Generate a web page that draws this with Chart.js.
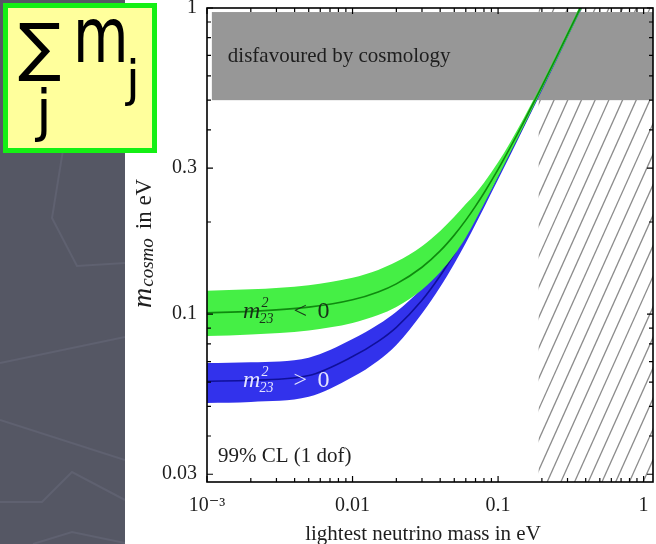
<!DOCTYPE html>
<html>
<head>
<meta charset="utf-8">
<script src="https://cdn.jsdelivr.net/npm/chart.js@4.4.1/dist/chart.umd.min.js"></script>
<style>
  html, body { margin: 0; padding: 0; }
  body { width: 656px; height: 544px; position: relative; overflow: hidden; background: #fff; }
  #slide { position: absolute; left: 0; top: 0; width: 125px; height: 544px; background: #555764; }
  #slide svg { position: absolute; left: 0; top: 0; }
  #plot { position: absolute; left: 125px; top: 0; width: 531px; height: 544px; background: #fff; }
  #sum { position: absolute; left: 3px; top: 3px; width: 144px; height: 140px; border: 5px solid #14f014;
         background: #ffff9c; font-family: "DejaVu Sans", sans-serif; color: #000; }
  #sum span { position: absolute; line-height: 1; white-space: nowrap; transform-origin: 0 0; }
</style>
</head>
<body>
<div id="slide">
  <svg width="125" height="544">
    <g fill="none" stroke="#5f6170" stroke-width="2">
      <polyline points="63,150 52,218 77,266 125,263"/>
      <polyline points="0,363 125,337"/>
      <polyline points="0,420 125,460"/>
      <polyline points="0,502 42,502 72,472 125,500"/>
      <polyline points="33,544 72,532 125,543"/>
    </g>
  </svg>
</div>
<div id="plot"><canvas id="massChart"></canvas></div>
<div id="sum">
  <span style="left:10px; top:7px; font-size:64px;">&#8721;</span>
  <span style="left:65px; top:-11px; font-size:77px; transform:scaleX(0.74);">m</span>
  <span style="left:118px; top:46px; font-size:50px;">j</span>
  <span style="left:28px; top:74px; font-size:57px;">j</span>
</div>

<script>
// lightest neutrino mass (eV)
const massX = [0.001, 0.002, 0.005, 0.01, 0.015, 0.02, 0.03, 0.04, 0.05, 0.06,
               0.07, 0.08, 0.1, 0.12, 0.15, 0.2, 0.25, 0.3, 0.37, 0.42];

// inverted ordering, m23^2 < 0
const invCentral = [0.1010, 0.1021, 0.1054, 0.1114, 0.1182, 0.1256, 0.1423, 0.1609, 0.1812, 0.2028,
                    0.2254, 0.2488, 0.2972, 0.3472, 0.4239, 0.5544, 0.6866, 0.8197, 1.0069, 1.1410];
const invUpper   = [0.1192, 0.1205, 0.1244, 0.1315, 0.1395, 0.1482, 0.1668, 0.1870, 0.2080, 0.2288,
                    0.2479, 0.2687, 0.3135, 0.3611, 0.4366, 0.5666, 0.7017, 0.8377, 1.0291, 1.1661];
const invLower   = [0.0848, 0.0858, 0.0885, 0.0936, 0.0993, 0.1055, 0.1202, 0.1371, 0.1562, 0.1781,
                    0.2029, 0.2289, 0.2809, 0.3333, 0.4112, 0.5422, 0.6715, 0.8017, 0.9847, 1.1159];

// normal ordering, m23^2 > 0
const norCentral = [0.0604, 0.0608, 0.0630, 0.0727, 0.0815, 0.0906, 0.1110, 0.1335, 0.1575, 0.1822,
                    0.2074, 0.2330, 0.2849, 0.3367, 0.4154, 0.5479, 0.6814, 0.8153, 1.0034, 1.1378];
const norUpper   = [0.0692, 0.0696, 0.0721, 0.0829, 0.0925, 0.1019, 0.1215, 0.1444, 0.1688, 0.1935,
                    0.2182, 0.2433, 0.2946, 0.3461, 0.4245, 0.5589, 0.6950, 0.8316, 1.0235, 1.1606];
const norLower   = [0.0513, 0.0517, 0.0537, 0.0623, 0.0705, 0.0793, 0.1005, 0.1226, 0.1462, 0.1709,
                    0.1966, 0.2227, 0.2752, 0.3273, 0.4063, 0.5369, 0.6678, 0.7990, 0.9833, 1.1150];

const xTickValues = [0.001, 0.01, 0.1, 1];
const xTickLabels = ['10\u207B\u00B3', '0.01', '0.1', '1'];
const xMinorTicks = [0.002, 0.003, 0.004, 0.005, 0.006, 0.007, 0.008, 0.009,
                     0.02, 0.03, 0.04, 0.05, 0.06, 0.07, 0.08, 0.09,
                     0.2, 0.3, 0.4, 0.5, 0.6, 0.7, 0.8, 0.9];
const yTickValues = [0.03, 0.1, 0.3, 1];
const yTickLabels = ['0.03', '0.1', '0.3', '1'];
const yMinorTicks = [0.04, 0.05, 0.06, 0.07, 0.08, 0.09, 0.2, 0.4, 0.5, 0.6, 0.7, 0.8, 0.9];

const cosmoBound = [0.5, 0.97];   // sum of masses disfavoured by cosmology
const cosmoFromX = 0.00108;
const hatchFromX = 0.19;          // excluded lightest mass

const SERIF = '"Liberation Serif", "DejaVu Serif", serif';

function pts(ys) {
  return massX.map((x, i) => ({ x: x, y: ys[i] }));
}

function bandLine(ys, order) {
  return { data: pts(ys), borderWidth: 0, pointRadius: 0, fill: false, order: order,
           cubicInterpolationMode: 'monotone' };
}

// draws "m" with sup 2 / sub 23, then a relation sign and 0
function drawM23(ctx, x, y, rel, color) {
  ctx.fillStyle = color;
  ctx.textBaseline = 'alphabetic';
  ctx.font = 'italic 24px ' + SERIF;
  ctx.fillText('m', x, y);
  const w = ctx.measureText('m').width;
  ctx.font = 'italic 14px ' + SERIF;
  ctx.fillText('2', x + w + 1, y - 11);
  ctx.fillText('23', x + w - 1, y + 5);
  ctx.font = '24px ' + SERIF;
  ctx.fillText(rel, x + w + 33, y);
  ctx.fillText('0', x + w + 57, y);
}

const decor = {
  id: 'decor',
  beforeDatasetsDraw(chart) {
    const { ctx, chartArea: a, scales: { x, y } } = chart;
    ctx.save();
    ctx.beginPath();
    ctx.rect(a.left, a.top, a.right - a.left, a.bottom - a.top);
    ctx.clip();

    // hatched region
    const hx = x.getPixelForValue(hatchFromX);
    ctx.save();
    ctx.beginPath();
    ctx.rect(hx, a.top, a.right - hx, a.bottom - a.top);
    ctx.clip();
    ctx.strokeStyle = '#8c8c8c';
    ctx.lineWidth = 1.3;
    const slope = 2.23, gap = 13.7, h = a.bottom - a.top;
    for (let bx = hx + 8.5 - 40 * gap; bx < a.right + 10; bx += gap) {
      ctx.beginPath();
      ctx.moveTo(bx, a.bottom);
      ctx.lineTo(bx + h / slope, a.top);
      ctx.stroke();
    }
    ctx.restore();

    // disfavoured band
    const yTop = y.getPixelForValue(cosmoBound[1]);
    const yBot = y.getPixelForValue(cosmoBound[0]);
    const bx0 = x.getPixelForValue(cosmoFromX);
    ctx.fillStyle = '#979797';
    ctx.fillRect(bx0, yTop, a.right - bx0, yBot - yTop);
    ctx.restore();
  },
  afterDatasetsDraw(chart) {
    const { ctx, chartArea: a, scales: { x, y } } = chart;
    ctx.save();

    ctx.fillStyle = '#1e1e1e';
    ctx.textBaseline = 'alphabetic';
    ctx.font = '21px ' + SERIF;
    ctx.fillText('disfavoured by cosmology', x.getPixelForValue(0.00139), y.getPixelForValue(0.666));
    ctx.fillText('99% CL (1 dof)', x.getPixelForValue(0.00119), y.getPixelForValue(0.0328));

    drawM23(ctx, x.getPixelForValue(0.00177), y.getPixelForValue(0.097), '<', '#183018');
    drawM23(ctx, x.getPixelForValue(0.00177), y.getPixelForValue(0.0577), '>', '#e4e4ff');

    // frame
    ctx.strokeStyle = '#000';
    ctx.lineWidth = 1.6;
    ctx.strokeRect(a.left, a.top, a.right - a.left, a.bottom - a.top);

    // inward ticks on all four sides
    ctx.lineWidth = 1.2;
    const xt = (v, len) => {
      const p = x.getPixelForValue(v);
      ctx.beginPath();
      ctx.moveTo(p, a.bottom); ctx.lineTo(p, a.bottom - len);
      ctx.moveTo(p, a.top); ctx.lineTo(p, a.top + len);
      ctx.stroke();
    };
    const yt = (v, len) => {
      const p = y.getPixelForValue(v);
      ctx.beginPath();
      ctx.moveTo(a.left, p); ctx.lineTo(a.left + len, p);
      ctx.moveTo(a.right, p); ctx.lineTo(a.right - len, p);
      ctx.stroke();
    };
    xTickValues.forEach(v => xt(v, 6));
    xMinorTicks.forEach(v => xt(v, 4));
    yTickValues.forEach(v => yt(v, 6));
    yMinorTicks.forEach(v => yt(v, 4));

    // axis titles
    ctx.fillStyle = '#1e1e1e';
    ctx.font = '21px ' + SERIF;
    ctx.textAlign = 'center';
    ctx.fillText('lightest neutrino mass in eV', 298, 540);
    ctx.textAlign = 'left';

    ctx.translate(26, 308);
    ctx.rotate(-Math.PI / 2);
    ctx.font = 'italic 28px ' + SERIF;
    ctx.fillText('m', 0, 0);
    let off = ctx.measureText('m').width + 1;
    ctx.font = 'italic 19px ' + SERIF;
    ctx.fillText('cosmo', off, 2);
    off += ctx.measureText('cosmo').width + 9;
    ctx.font = '23px ' + SERIF;
    ctx.fillText('in eV', off, 0);
    ctx.restore();
  }
};

new Chart(document.getElementById('massChart'), {
  type: 'line',
  data: {
    datasets: [
      bandLine(invLower, 2),
      Object.assign(bandLine(invUpper, 1), { fill: '-1', backgroundColor: '#45ef45' }),
      { data: pts(invCentral), borderColor: '#0f8a0f', borderWidth: 1.6, pointRadius: 0,
        fill: false, order: 0, cubicInterpolationMode: 'monotone' },
      bandLine(norLower, 5),
      Object.assign(bandLine(norUpper, 4), { fill: '-1', backgroundColor: '#3232ec' }),
      { data: pts(norCentral), borderColor: '#10109a', borderWidth: 1.6, pointRadius: 0,
        fill: false, order: 3, cubicInterpolationMode: 'monotone' }
    ]
  },
  options: {
    responsive: true,
    maintainAspectRatio: false,
    animation: false,
    layout: { padding: { top: 8, right: 3, bottom: 0, left: 0 } },
    plugins: { legend: { display: false }, tooltip: { enabled: false } },
    scales: {
      x: {
        type: 'logarithmic', min: 0.001, max: 1.16,
        grid: { display: false, drawTicks: false },
        border: { display: false },
        afterBuildTicks: s => { s.ticks = xTickValues.map(v => ({ value: v })); },
        afterFit: s => { s.height = 62; s.paddingLeft = 0; s.paddingRight = 0; },
        ticks: {
          autoSkip: false, maxRotation: 0, padding: 12, color: '#1e1e1e',
          font: { family: SERIF, size: 20 },
          callback: v => { const i = xTickValues.indexOf(v); return i >= 0 ? xTickLabels[i] : ''; }
        }
      },
      y: {
        type: 'logarithmic', min: 0.0283, max: 1,
        grid: { display: false, drawTicks: false },
        border: { display: false },
        afterBuildTicks: s => { s.ticks = yTickValues.map(v => ({ value: v })); },
        afterFit: s => { s.width = 82; s.paddingTop = 0; s.paddingBottom = 0; },
        ticks: {
          autoSkip: false, padding: 10, color: '#1e1e1e',
          font: { family: SERIF, size: 20 },
          callback: v => { const i = yTickValues.indexOf(v); return i >= 0 ? yTickLabels[i] : ''; }
        }
      }
    }
  },
  plugins: [decor]
});
</script>
</body>
</html>
